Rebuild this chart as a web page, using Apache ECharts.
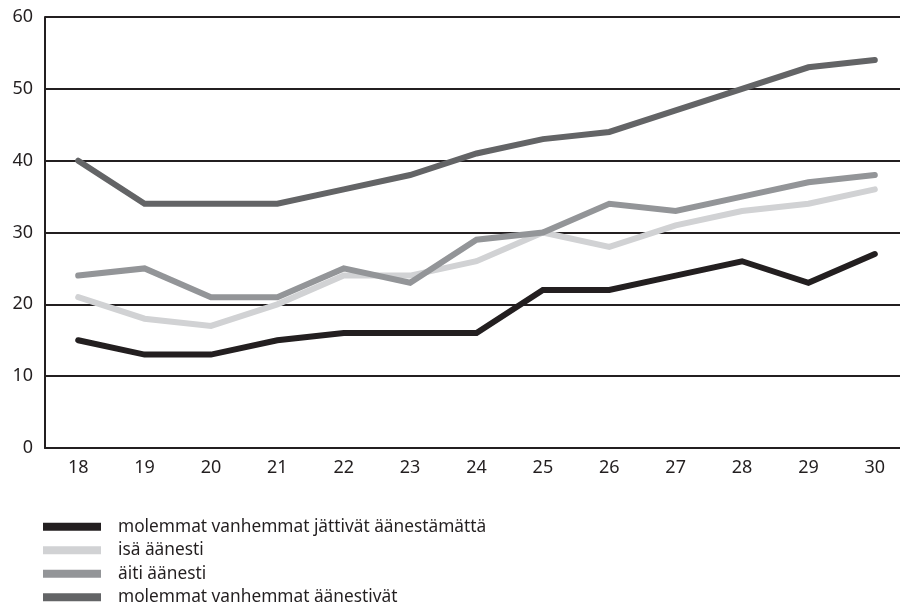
<!DOCTYPE html>
<html><head><meta charset="utf-8">
<script src="https://cdn.jsdelivr.net/npm/echarts@6/dist/echarts.min.js"></script>
<style>html,body{margin:0;padding:0;background:#fff;overflow:hidden}#c{width:908px;height:615px}</style>
</head><body><div id="c"></div>
<script>
const categories = ['18','19','20','21','22','23','24','25','26','27','28','29','30'];
const seriesNames = ['molemmat vanhemmat jättivät äänestämättä','isä äänesti','äiti äänesti','molemmat vanhemmat äänestivät'];
const neitherVoted = [15,13,13,15,16,16,16,22,22,24,26,23,27];
const fatherVoted = [21,18,17,20,24,24,26,30,28,31,33,34,36];
const motherVoted = [24,25,21,21,25,23,29,30,34,33,35,37,38];
const bothVoted = [40,34,34,34,36,38,41,43,44,47,50,53,54];
const colors = ['#231f20','#d1d2d4','#939598','#636466'];
const dataSets = [neitherVoted, fatherVoted, motherVoted, bothVoted];

const chart = echarts.init(document.getElementById('c'));
const font = 'Noto Sans';
chart.setOption({
  animation:false,
  grid:{left:45,right:0,top:17,bottom:167},
  legend:{
    orient:'vertical', left:43, top:515, padding:0, icon:'rect', itemWidth:58, itemHeight:8, itemGap:0,
    lineStyle:{width:8,cap:'butt'},
    textStyle:{fontFamily:font,fontSize:17.3,color:'#231f20',padding:[0,0,0,12],lineHeight:23.5},
    data:seriesNames
  },
  xAxis:{type:'category',data:categories,boundaryGap:true,
    axisLine:{lineStyle:{color:'#231f20',width:2}},axisTick:{show:false},
    axisLabel:{fontFamily:font,fontSize:18,color:'#231f20',margin:11},
    splitLine:{show:false}},
  yAxis:{type:'value',min:0,max:60,interval:10,
    axisLine:{show:true,lineStyle:{color:'#231f20',width:2}},axisTick:{show:false},
    axisLabel:{fontFamily:font,fontSize:18,color:'#231f20',margin:12},
    splitLine:{lineStyle:{color:'#231f20',width:2}}},
  series:dataSets.map((d,i)=>({
    name:seriesNames[i],type:'line',data:d,symbol:'none',
    lineStyle:{color:colors[i],width:6,cap:'round',join:'miter'},
    itemStyle:{color:colors[i]}
  }))
});
</script></body></html>
